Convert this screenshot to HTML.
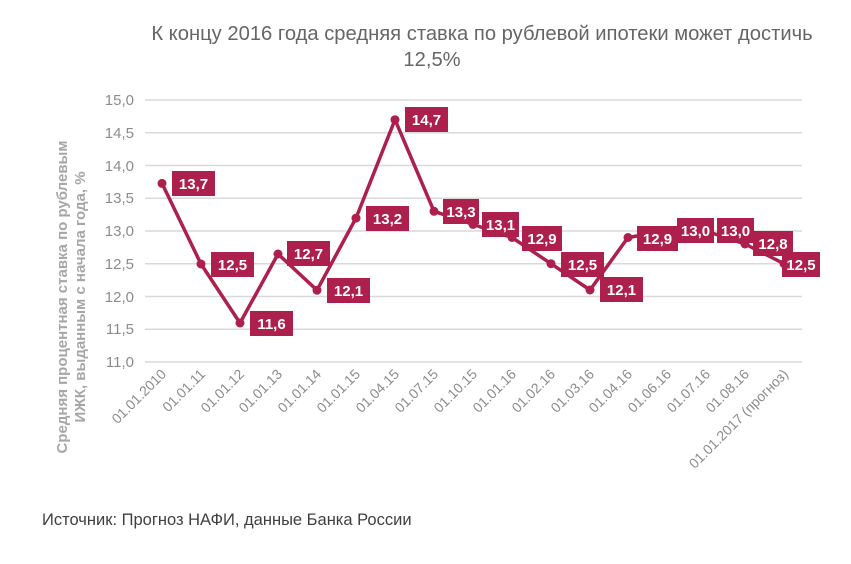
<!DOCTYPE html>
<html><head><meta charset="utf-8"><style>
body{margin:0;background:#fff;width:851px;height:559px;overflow:hidden}
svg{font-family:"Liberation Sans",sans-serif}
</style></head><body>
<svg width="851" height="559" viewBox="0 0 851 559">
<text x="482" y="40" font-size="20.2" fill="#666" text-anchor="middle">К концу 2016 года средняя ставка по рублевой ипотеки может достичь</text>
<text x="432" y="66" font-size="20.2" fill="#666" text-anchor="middle">12,5%</text>
<g stroke="#d9d9d9" stroke-width="1.5">
<line x1="145" x2="802" y1="100" y2="100"/><line x1="145" x2="802" y1="132.75" y2="132.75"/>
<line x1="145" x2="802" y1="165.5" y2="165.5"/><line x1="145" x2="802" y1="198.25" y2="198.25"/>
<line x1="145" x2="802" y1="231" y2="231"/><line x1="145" x2="802" y1="263.75" y2="263.75"/>
<line x1="145" x2="802" y1="296.5" y2="296.5"/><line x1="145" x2="802" y1="329.25" y2="329.25"/>
<line x1="145" x2="802" y1="362" y2="362"/>
</g>
<g font-size="15" fill="#8c8c8c" text-anchor="end">
<text x="134" y="105">15,0</text><text x="134" y="138">14,5</text><text x="134" y="171">14,0</text>
<text x="134" y="203">13,5</text><text x="134" y="236">13,0</text><text x="134" y="269">12,5</text>
<text x="134" y="302">12,0</text><text x="134" y="334">11,5</text><text x="134" y="367">11,0</text>
</g>
<g font-size="15" font-weight="bold" fill="#a6a6a6" text-anchor="middle">
<text transform="translate(67,297) rotate(-90)">Средняя процентная ставка по рублевым</text>
<text transform="translate(85,297) rotate(-90)">ИЖК, выданным с начала года, %</text>
</g>
<g font-size="14" fill="#8c8c8c" text-anchor="end">
<text transform="translate(167,375) rotate(-45)">01.01.2010</text>
<text transform="translate(206,375) rotate(-45)">01.01.11</text>
<text transform="translate(245,375) rotate(-45)">01.01.12</text>
<text transform="translate(283,375) rotate(-45)">01.01.13</text>
<text transform="translate(322,375) rotate(-45)">01.01.14</text>
<text transform="translate(361,375) rotate(-45)">01.01.15</text>
<text transform="translate(400,375) rotate(-45)">01.04.15</text>
<text transform="translate(439,375) rotate(-45)">01.07.15</text>
<text transform="translate(478,375) rotate(-45)">01.10.15</text>
<text transform="translate(517,375) rotate(-45)">01.01.16</text>
<text transform="translate(556,375) rotate(-45)">01.02.16</text>
<text transform="translate(595,375) rotate(-45)">01.03.16</text>
<text transform="translate(633,375) rotate(-45)">01.04.16</text>
<text transform="translate(672,375) rotate(-45)">01.06.16</text>
<text transform="translate(711,375) rotate(-45)">01.07.16</text>
<text transform="translate(750,375) rotate(-45)">01.08.16</text>
<text transform="translate(789,375) rotate(-45)">01.01.2017 (прогноз)</text>
</g>
<polyline fill="none" stroke="#ad1f4d" stroke-width="3.5" stroke-linejoin="round" points="162,183.4 201,264 240,323 278,254 317,290.2 356,218.1 395,119.7 434,211.3 473,224.4 512,237.5 551,263.7 590,290 628,237.5 667,231 706,231 745,244 784,263.7"/>
<g fill="#ad1f4d">
<circle cx="162" cy="183.4" r="4.5"/><circle cx="201" cy="264" r="4.5"/><circle cx="240" cy="323" r="4.5"/>
<circle cx="278" cy="254" r="4.5"/><circle cx="317" cy="290.2" r="4.5"/><circle cx="356" cy="218.1" r="4.5"/>
<circle cx="395" cy="119.7" r="4.5"/><circle cx="434" cy="211.3" r="4.5"/><circle cx="473" cy="224.4" r="4.5"/>
<circle cx="512" cy="237.5" r="4.5"/><circle cx="551" cy="263.7" r="4.5"/><circle cx="590" cy="290" r="4.5"/>
<circle cx="628" cy="237.5" r="4.5"/><circle cx="667" cy="231" r="4.5"/><circle cx="706" cy="231" r="4.5"/>
<circle cx="745" cy="244" r="4.5"/><circle cx="784" cy="263.7" r="4.5"/>
<rect x="172" y="171" width="43" height="25"/><rect x="211" y="252" width="43" height="25"/>
<rect x="250" y="311" width="43" height="25"/><rect x="287" y="241" width="43" height="25"/>
<rect x="327" y="278" width="43" height="25"/><rect x="366" y="206" width="43" height="25"/>
<rect x="405" y="107" width="43" height="25"/><rect x="443" y="199" width="36" height="25"/>
<rect x="482" y="212" width="37" height="25"/><rect x="522" y="226" width="40" height="25"/>
<rect x="561" y="252" width="43" height="25"/><rect x="600" y="277" width="43" height="25"/>
<rect x="637" y="226" width="41" height="25"/><rect x="677" y="218" width="37" height="25"/>
<rect x="717" y="218" width="37" height="25"/><rect x="753" y="231" width="40" height="25"/>
<rect x="782" y="252" width="38" height="25"/>
</g>
<g font-size="15" font-weight="bold" fill="#fff" text-anchor="middle">
<text x="193.5" y="189">13,7</text><text x="232.5" y="270">12,5</text><text x="271.5" y="329">11,6</text>
<text x="308.5" y="259">12,7</text><text x="348.5" y="296">12,1</text><text x="387.5" y="224">13,2</text>
<text x="426.5" y="125">14,7</text><text x="461" y="217">13,3</text><text x="500.5" y="230">13,1</text>
<text x="542" y="244">12,9</text><text x="582.5" y="270">12,5</text><text x="621.5" y="295">12,1</text>
<text x="657.5" y="244">12,9</text><text x="695.5" y="236">13,0</text><text x="735.5" y="236">13,0</text>
<text x="773" y="249">12,8</text><text x="801" y="270">12,5</text>
</g>
<text x="42" y="525" font-size="16.5" fill="#404040">Источник: Прогноз НАФИ, данные Банка России</text>
</svg>
</body></html>
